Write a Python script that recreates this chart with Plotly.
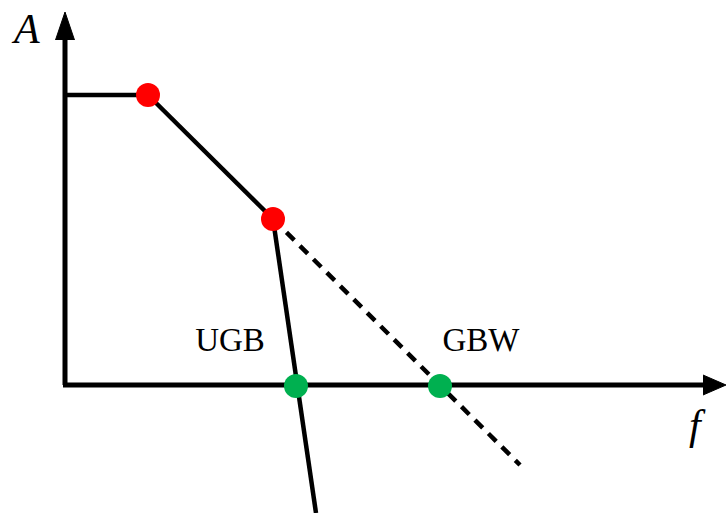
import plotly.graph_objects as go

# Diagram data (canvas coordinates, y grows downward)
y_axis_x = [65, 65]
y_axis_y = [385, 38]
x_axis_x = [63, 705]
x_axis_y = [385, 385]
y_arrow_x = [55.5, 65, 74.5]
y_arrow_y = [40, 12, 40]
x_arrow_x = [703, 726, 703]
x_arrow_y = [375, 385, 395]

flat_x = [65, 148]
flat_y = [95, 95]
slope_x = [148, 273]
slope_y = [95, 219]
steep_x = [273, 316]
steep_y = [219, 513]
dashed_x = [273, 520]
dashed_y = [219, 465]
pole_x = [148, 273]
pole_y = [95, 219]
cross_x = [296, 440]
cross_y = [386, 386]

labels = ["UGB", "GBW"]
label_x = [230, 481]
label_y = [343, 343]

fig = go.Figure()

def line(x, y, width=5, dash="solid"):
    fig.add_trace(go.Scatter(x=x, y=y, mode="lines",
                             line=dict(color="black", width=width, dash=dash),
                             hoverinfo="skip", showlegend=False))

def tri(x, y):
    fig.add_trace(go.Scatter(x=x, y=y, mode="lines", fill="toself",
                             fillcolor="black", line=dict(color="black", width=1),
                             hoverinfo="skip", showlegend=False))

line(y_axis_x, y_axis_y, 5)
line(x_axis_x, x_axis_y, 5)
tri(y_arrow_x, y_arrow_y)
tri(x_arrow_x, x_arrow_y)
line(flat_x, flat_y, 4.5)
line(slope_x, slope_y, 4.5)
line(steep_x, steep_y, 4.5)
line(dashed_x, dashed_y, 4.5, dash="11px,8px")

fig.add_trace(go.Scatter(x=pole_x, y=pole_y, mode="markers",
                         marker=dict(color="#FF0000", size=24, line=dict(width=0)),
                         hoverinfo="skip", showlegend=False))
fig.add_trace(go.Scatter(x=cross_x, y=cross_y, mode="markers",
                         marker=dict(color="#00B050", size=24, line=dict(width=0)),
                         hoverinfo="skip", showlegend=False))

fig.add_trace(go.Scatter(x=label_x, y=label_y, mode="text", text=labels,
                         textfont=dict(family="Liberation Serif", size=33, color="black"),
                         textposition="middle center",
                         hoverinfo="skip", showlegend=False))

fig.add_annotation(x=25, y=29, text="<i>A</i>", showarrow=False,
                   font=dict(family="Liberation Serif", size=42, color="black"))
fig.add_annotation(x=697, y=425, text="<i>f</i>", showarrow=False,
                   font=dict(family="Liberation Serif", size=42, color="black"))

fig.update_layout(
    width=726, height=513,
    margin=dict(l=0, r=0, t=0, b=0),
    paper_bgcolor="white", plot_bgcolor="white",
    xaxis=dict(range=[0, 726], visible=False, fixedrange=True),
    yaxis=dict(range=[513, 0], visible=False, fixedrange=True),
)

fig.write_html("out.html", config={"displayModeBar": False},
               post_script="document.body.style.margin='0';")
